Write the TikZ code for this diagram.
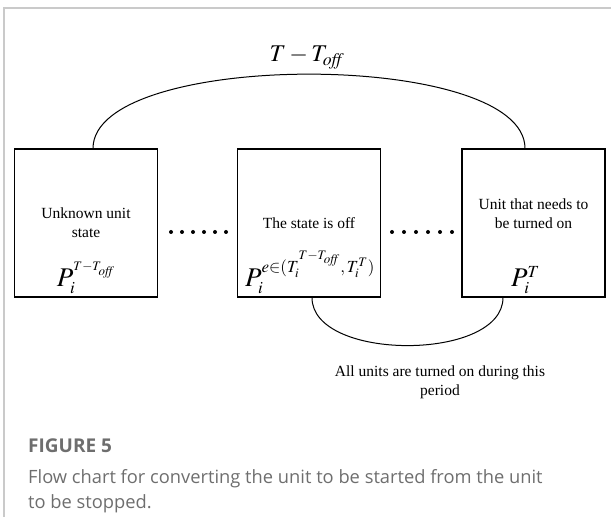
\documentclass[tikz,border=0pt]{standalone}
\usepackage{mathptmx}
\usepackage{fontspec}
\setmainfont{Liberation Serif}
\newfontfamily\capfont{Open Sans}
\usetikzlibrary{positioning}
\definecolor{capgray}{HTML}{6E6E6E}
\definecolor{framegray}{HTML}{CACACA}
\DeclareMathSizes{27}{27}{17}{13}

\begin{document}
\begin{tikzpicture}[x=1pt, y=1pt,
    unitbox/.style={draw, line width=1.2pt, minimum width=143pt, minimum height=148pt, inner sep=0pt},
    boxtext/.style={font=\fontsize{15.5}{19}\selectfont, align=center},
    formula/.style={font=\fontsize{27}{27}\selectfont, inner sep=0pt, anchor=base},
    link/.style={line width=1pt}]
    \useasboundingbox (0,0) rectangle (611,517);
    \draw[framegray, line width=1.5pt] (4,0) -- (4,509) -- (611,509);

    \node[unitbox] (unk) at (86,294) {};
    \node[unitbox] (off) at (309,294) {};
    \node[unitbox] (on) at (533.5,294) {};

    \node[boxtext] (unktxt) at (unk.center) {Unknown unit\\state};
    \node[boxtext] (offtxt) at (off.center) {The state is off};
    \node[boxtext] (ontxt) at ([yshift=9pt]on.center) {Unit that needs to\\be turned on};

    \node[formula] (unkP) at ([xshift=0pt,yshift=-64pt]unk.center) {$P_i^{\scriptscriptstyle T-T_{\mathit{off}}}$};
    \node[formula] (offP) at ([xshift=1pt,yshift=-64pt]off.center) {$P_i^{e\in(T_i^{T-T_{\mathit{off}}},\,T_i^{T})}$};
    \node[formula] (onP) at ([xshift=-8pt,yshift=-64pt]on.center) {$P_i^{T}$};

    \foreach \k in {0,...,5} {
      \fill (171+\k*11,285) circle[radius=2];
      \fill (392+\k*12,285) circle[radius=2];
    }

    \draw[link] ([xshift=7pt]unk.north) .. controls +(0,99) and +(0,99) .. ([xshift=-8.5pt]on.north);
    \node[font=\fontsize{24}{24}\selectfont] (span) at (307,459) {$T-T_{\mathit{off}}$};

    \draw[link] ([xshift=3pt]off.south) .. controls +(0,-64) and +(0,-64) .. ([xshift=-30.5pt]on.south);
    \node[boxtext] (period) at (440,134.5) {All units are turned on during this\\period};

    \node[anchor=base west, inner sep=0pt, text=capgray, font=\capfont\bfseries\fontsize{19}{19}\selectfont] (fignum) at (28,64) {FIGURE 5};
    \node[anchor=north west, inner sep=0pt, align=left, text=capgray, font=\capfont\fontsize{18.3}{25}\selectfont] (caption) at (28,48) {Flow chart for converting the unit to be started from the unit\\to be stopped.};
\end{tikzpicture}
\end{document}
